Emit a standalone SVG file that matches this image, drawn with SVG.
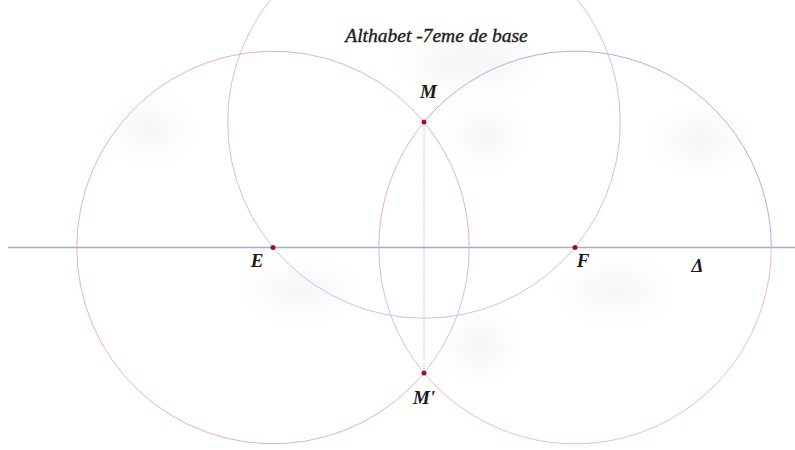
<svg xmlns="http://www.w3.org/2000/svg" width="795" height="450" viewBox="0 0 795 450">
  <defs>
    <filter id="blur" x="-50%" y="-50%" width="200%" height="200%">
      <feGaussianBlur stdDeviation="16"/>
    </filter>
    <style>
      .lbl { font-family: "Liberation Serif", "Times New Roman", serif; font-style: italic; font-weight: bold; font-size: 19px; fill: #1a1a1a; }
      .title { font-family: "Liberation Serif", "Times New Roman", serif; font-style: italic; font-size: 19.5px; fill: #1a1a1a; stroke: #1a1a1a; stroke-width: 0.35; }
      .red { fill: none; stroke: #eab0bb; stroke-width: 1; }
      .purple { fill: none; stroke: #c4a6dc; stroke-width: 1; }
      .pink { fill: none; stroke: #efbcc6; stroke-width: 1; }
      .blue { fill: none; stroke: #c4c4f0; stroke-width: 1; }
      .axis { fill: none; stroke: #a8a8de; stroke-width: 1.3; }
      .pt { fill: #a01020; }
    </style>
  </defs>
  <rect width="795" height="450" fill="#ffffff"/>
  <g id="shadows" filter="url(#blur)" fill="#000" opacity="0.06">
    <ellipse cx="470" cy="62" rx="60" ry="14"/>
    <ellipse cx="300" cy="290" rx="45" ry="12"/>
    <ellipse cx="615" cy="290" rx="45" ry="12"/>
    <ellipse cx="485" cy="135" rx="22" ry="18"/>
    <ellipse cx="480" cy="345" rx="22" ry="20"/>
    <ellipse cx="150" cy="130" rx="30" ry="14"/>
    <ellipse cx="700" cy="140" rx="35" ry="14"/>
  </g>
  <g id="connectors">
    <line id="delta" class="axis" x1="8" y1="247.5" x2="795" y2="247.5"/>
    <line id="bisector" class="blue" x1="424" y1="122" x2="424" y2="373" stroke-dasharray="2 1"/>
    <circle id="circleM" class="blue" cx="424" cy="122" r="196.3"/>
    <path id="circleE-outer" class="red" d="M 424 373 A 196.3 196.3 0 1 1 424 122"/>
    <path id="circleE-lens-top" class="red" d="M 424 122 A 196.3 196.3 0 0 1 469.3 247.5"/>
    <path id="circleE-lens-bottom" class="blue" d="M 469.3 247.5 A 196.3 196.3 0 0 1 424 373"/>
    <path id="circleF-lens-top" class="red" d="M 424 122 A 196.3 196.3 0 0 0 378.7 247.5"/>
    <path id="circleF-lens-bottom" class="blue" d="M 378.7 247.5 A 196.3 196.3 0 0 0 424 373"/>
    <path id="circleF-top" class="purple" d="M 424 122 A 196.3 196.3 0 0 1 771.3 247.5"/>
    <path id="circleF-bottom" class="pink" d="M 771.3 247.5 A 196.3 196.3 0 0 1 424 373"/>
  </g>
  <g id="title"><text class="title" x="436.5" y="42" text-anchor="middle">Althabet -7eme de base</text></g>
  <g id="node-E"><circle class="pt" cx="273" cy="247.5" r="2.5"/><text class="lbl" x="257" y="267" text-anchor="middle">E</text></g>
  <g id="node-F"><circle class="pt" cx="575" cy="247.5" r="2.5"/><text class="lbl" x="583" y="267" text-anchor="middle">F</text></g>
  <g id="node-M"><circle class="pt" cx="424" cy="122" r="2.5"/><text class="lbl" x="428.5" y="98" text-anchor="middle">M</text></g>
  <g id="node-M2"><circle class="pt" cx="424" cy="373" r="2.5"/><text class="lbl" x="424" y="404" text-anchor="middle">M'</text></g>
  <g id="label-delta"><text class="lbl" x="697.5" y="272" text-anchor="middle">Δ</text></g>
</svg>
